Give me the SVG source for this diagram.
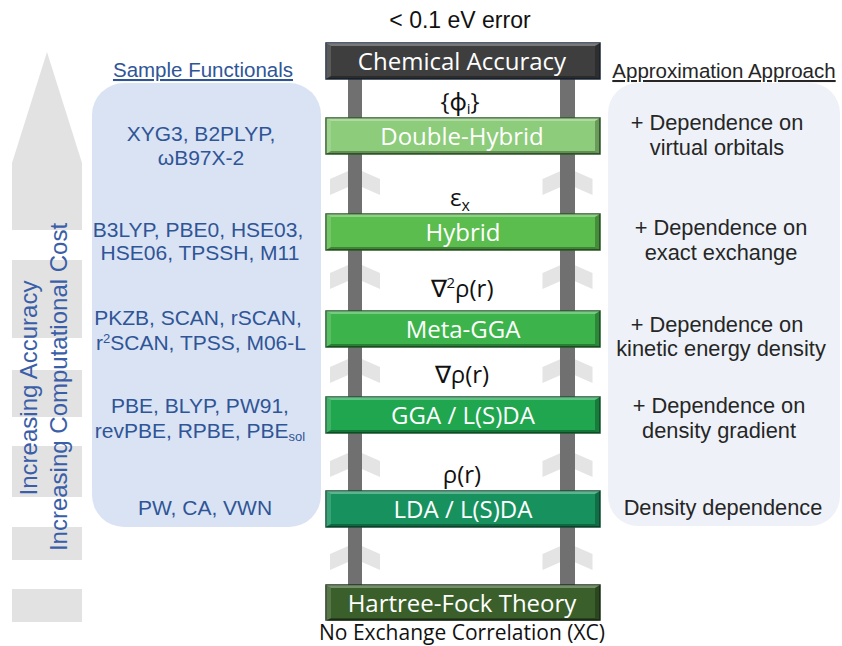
<svg xmlns="http://www.w3.org/2000/svg" xmlns:xlink="http://www.w3.org/1999/xlink" width="842" height="646" viewBox="0 0 842 646">
<style>
.bg{fill:#ffffff}
.blk{fill:#e2e2e2}
.side{font-family:"Liberation Sans",Arial,sans-serif;font-size:24px;fill:#3a5ea8}
.lp{fill:#dae3f3}
.rp{fill:#eef2f8}
.lt{font-family:"Liberation Sans",Arial,sans-serif;font-size:21px;fill:#2f5597;text-anchor:middle}
.rt{font-family:"Liberation Sans",Arial,sans-serif;font-size:21.8px;fill:#262626;text-anchor:middle}
.hd{font-family:"Liberation Sans",Arial,sans-serif;font-size:20.5px;text-anchor:middle;text-decoration:underline}
.rail{fill:#707070}
.chev{fill:#e4e4e4}
.rung{stroke-width:1.5}
.rl{font-family:"Open Sans","Noto Sans",sans-serif;font-size:24px;fill:#ffffff;text-anchor:middle}
.math{font-family:"Open Sans","Noto Sans",sans-serif;font-size:24px;fill:#111111;text-anchor:middle}
.top{font-family:"Liberation Sans",Arial,sans-serif;font-size:23px;fill:#111111;text-anchor:middle}
.bot{font-family:"Open Sans","Noto Sans",sans-serif;font-size:21px;fill:#111111;text-anchor:middle}
</style>
<defs>
<polygon id="chevron" points="-25,11 0,0 25,11 25,27 0,16 -25,27"/>
<g id="bevel">
<polygon points="0,0 274,0 269,3 5,3" fill="#ffffff" fill-opacity="0.3"/>
<polygon points="0,0 5,3 5,33 0,36" fill="#ffffff" fill-opacity="0.15"/>
<polygon points="274,0 274,36 269,33 269,3" fill="#000000" fill-opacity="0.25"/>
<polygon points="0,36 274,36 269,33 5,33" fill="#000000" fill-opacity="0.3"/>
</g>
</defs>
<rect class="bg" x="0" y="0" width="842" height="646"/>

<g id="progress-arrow">
<polygon class="blk" points="47,52 82,163 82,230 12,230 12,163"/>
<rect class="blk" x="12" y="260" width="70" height="78"/>
<rect class="blk" x="12" y="370" width="70" height="47"/>
<rect class="blk" x="12" y="446" width="70" height="51"/>
<rect class="blk" x="12" y="527" width="70" height="33"/>
<rect class="blk" x="12" y="589" width="70" height="33"/>
<text class="side" text-anchor="middle" transform="translate(37,388) rotate(-90)">Increasing Accuracy</text>
<text class="side" text-anchor="middle" transform="translate(67,387) rotate(-90)">Increasing Computational Cost</text>
</g>

<g id="sample-functionals">
<text class="hd" x="203" y="77" fill="#2f5597">Sample Functionals</text>
<rect class="lp" x="92" y="83" width="229" height="444" rx="32"/>
<text class="lt" x="201" y="141">XYG3, B2PLYP,</text>
<text class="lt" x="201" y="165">ωB97X-2</text>
<text class="lt" x="198" y="237">B3LYP, PBE0, HSE03,</text>
<text class="lt" x="200" y="260">HSE06, TPSSH, M11</text>
<text class="lt" x="198" y="325">PKZB, SCAN, rSCAN,</text>
<text class="lt" x="201" y="350">r<tspan font-size="13" dy="-7">2</tspan><tspan dy="7">SCAN, TPSS, M06-L</tspan></text>
<text class="lt" x="200" y="413">PBE, BLYP, PW91,</text>
<text class="lt" x="200" y="438">revPBE, RPBE, PBE<tspan font-size="13" dy="3">sol</tspan></text>
<text class="lt" x="205" y="515">PW, CA, VWN</text>
</g>

<g id="approximation-approach">
<text class="hd" x="724" y="78" fill="#262626">Approximation Approach</text>
<rect class="rp" x="608" y="83" width="232" height="443" rx="30"/>
<text class="rt" x="717" y="130">+ Dependence on</text>
<text class="rt" x="717" y="155">virtual orbitals</text>
<text class="rt" x="721" y="235">+ Dependence on</text>
<text class="rt" x="721" y="260">exact exchange</text>
<text class="rt" x="717" y="332">+ Dependence on</text>
<text class="rt" x="721" y="356">kinetic energy density</text>
<text class="rt" x="719" y="413">+ Dependence on</text>
<text class="rt" x="719" y="438">density gradient</text>
<text class="rt" x="723" y="515">Density dependence</text>
</g>

<g id="connectors">
<use xlink:href="#chevron" class="chev" x="355" y="168"/>
<use xlink:href="#chevron" class="chev" x="355" y="262"/>
<use xlink:href="#chevron" class="chev" x="355" y="356"/>
<use xlink:href="#chevron" class="chev" x="355" y="450"/>
<use xlink:href="#chevron" class="chev" x="355" y="543"/>
<use xlink:href="#chevron" class="chev" x="567.5" y="168"/>
<use xlink:href="#chevron" class="chev" x="567.5" y="262"/>
<use xlink:href="#chevron" class="chev" x="567.5" y="356"/>
<use xlink:href="#chevron" class="chev" x="567.5" y="450"/>
<use xlink:href="#chevron" class="chev" x="567.5" y="543"/>
<rect class="rail" x="348" y="79" width="14" height="507"/>
<rect class="rail" x="560" y="79" width="15" height="507"/>
</g>

<text class="top" x="460" y="28">&lt; 0.1 eV error</text>

<g id="chemical-accuracy">
<rect class="rung" x="326" y="43" width="274" height="36" fill="#3e3e3e" stroke="#1c2a3c"/>
<use xlink:href="#bevel" x="326" y="43"/>
<text class="rl" x="462" y="70" fill="#f2f2f2">Chemical Accuracy</text>
</g>
<text class="math" x="460" y="110">{ϕ<tspan font-size="15" dy="4">i</tspan><tspan dy="-4">}</tspan></text>

<g id="double-hybrid">
<rect class="rung" x="326" y="118" width="274" height="36" fill="#8dcc7a" stroke="#2d5a24"/>
<use xlink:href="#bevel" x="326" y="118"/>
<text class="rl" x="462" y="145">Double-Hybrid</text>
</g>
<text class="math" x="460" y="206">ε<tspan font-size="16" dy="5">x</tspan></text>

<g id="hybrid">
<rect class="rung" x="326" y="214" width="274" height="36" fill="#5cbd4f" stroke="#2a5a22"/>
<use xlink:href="#bevel" x="326" y="214"/>
<text class="rl" x="463" y="241">Hybrid</text>
</g>
<text class="math" x="462" y="297">∇<tspan font-size="15" dy="-9">2</tspan><tspan dy="9">ρ(r)</tspan></text>

<g id="meta-gga">
<rect class="rung" x="326" y="311" width="274" height="36" fill="#3db44b" stroke="#1f5a26"/>
<use xlink:href="#bevel" x="326" y="311"/>
<text class="rl" x="463" y="338">Meta-GGA</text>
</g>
<text class="math" x="462" y="383">∇ρ(r)</text>

<g id="gga">
<rect class="rung" x="326" y="397" width="274" height="36" fill="#1fa64f" stroke="#155a2c"/>
<use xlink:href="#bevel" x="326" y="397"/>
<text class="rl" x="463" y="424">GGA / L(S)DA</text>
</g>
<text class="math" x="462" y="483">ρ(r)</text>

<g id="lda">
<rect class="rung" x="326" y="491" width="274" height="36" fill="#17925e" stroke="#0e4f33"/>
<use xlink:href="#bevel" x="326" y="491"/>
<text class="rl" x="463" y="518">LDA / L(S)DA</text>
</g>

<g id="hartree-fock">
<rect class="rung" x="326" y="585" width="274" height="35" fill="#3a5f2a" stroke="#1e3316"/>
<use xlink:href="#bevel" x="326" y="585"/>
<text class="rl" x="462" y="612" fill="#eef3e8">Hartree-Fock Theory</text>
</g>
<text class="bot" x="462" y="640">No Exchange Correlation (XC)</text>
</svg>
